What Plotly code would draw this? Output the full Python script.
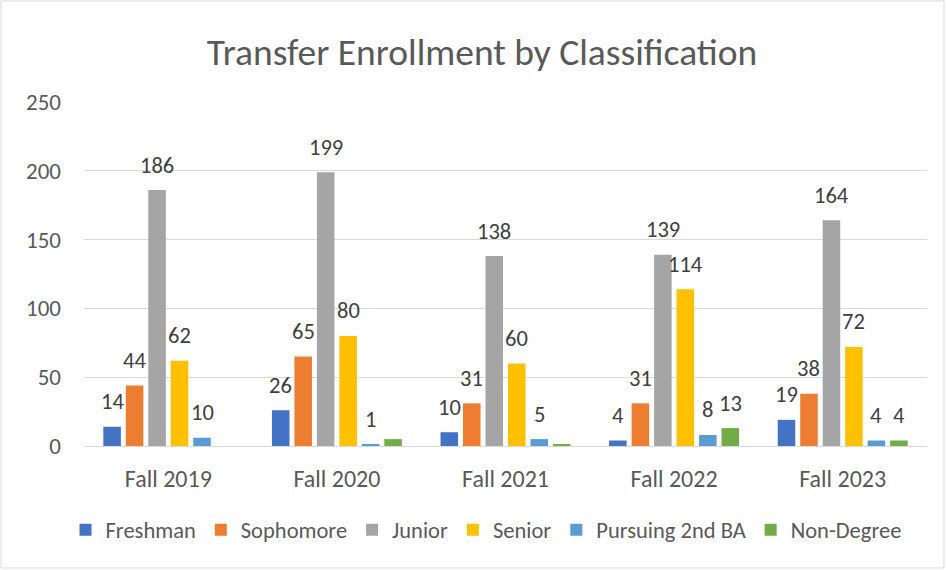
import plotly.graph_objects as go

categories = ["Fall 2019", "Fall 2020", "Fall 2021", "Fall 2022", "Fall 2023"]
series_names = ["Freshman", "Sophomore", "Junior", "Senior", "Pursuing 2nd BA", "Non-Degree"]
freshman = [14, 26, 10, 4, 19]
sophomore = [44, 65, 31, 31, 38]
junior = [186, 199, 138, 139, 164]
senior = [62, 80, 60, 114, 72]
pursuing_2nd_ba = [6, 1, 5, 8, 4]
non_degree = [0, 5, 1, 13, 4]
# data-label texts as shown on the chart
freshman_labels = ["14", "26", "10", "4", "19"]
sophomore_labels = ["44", "65", "31", "31", "38"]
junior_labels = ["186", "199", "138", "139", "164"]
senior_labels = ["62", "80", "60", "114", "72"]
pursuing_labels = ["10", "1", "5", "8", "4"]
non_degree_labels = ["", "", "", "13", "4"]
y_ticks = [0, 50, 100, 150, 200, 250]

values = [freshman, sophomore, junior, senior, pursuing_2nd_ba, non_degree]
labels = [freshman_labels, sophomore_labels, junior_labels, senior_labels, pursuing_labels, non_degree_labels]
colors = ["#4472C4", "#ED7D31", "#A5A5A5", "#FFC000", "#5B9BD5", "#70AD47"]

FONT = "Carlito, Calibri, Lato, sans-serif"
BARGAP = 0.2
BARGROUPGAP = 0.22
W, H = 946, 570
L, T, PW, PH = 84, 102, 843, 344  # plot area in pixels

fig = go.Figure()
for name, vals, col in zip(series_names, values, colors):
    fig.add_trace(go.Bar(name=name, x=categories, y=vals, marker_color=col,
                         marker_line_width=0))

n = len(series_names)
slot = (1 - BARGAP) / n
annotations = []
for i, labs in enumerate(labels):
    for c, (v, t) in enumerate(zip(values[i], labs)):
        if t == "":
            continue
        annotations.append(dict(
            x=c + (i - (n - 1) / 2) * slot, y=v, xref="x", yref="y",
            text=t, showarrow=False, yanchor="middle", yshift=25,
            font=dict(family=FONT, size=22.5, color="#404040")))

fig.update_layout(
    width=W, height=H,
    paper_bgcolor="white", plot_bgcolor="white",
    margin=dict(l=L, r=W - L - PW, t=T, b=H - T - PH),
    barmode="group", bargap=BARGAP, bargroupgap=BARGROUPGAP,
    font=dict(family=FONT, color="#595959"),
    title=dict(text="Transfer Enrollment by Classification", x=482 / W, xref="container",
               xanchor="center", y=1 - 52 / H, yref="container", yanchor="middle",
               font=dict(family=FONT, size=37.5, color="#595959")),
    xaxis=dict(showgrid=False, showline=True, linecolor="#D9D9D9", linewidth=1,
               tickfont=dict(family=FONT, size=24, color="#595959"),
               ticks="", ticklabelstandoff=11),
    yaxis=dict(range=[0, 250], tickvals=y_ticks, showgrid=True, gridcolor="#D9D9D9",
               gridwidth=1, zeroline=False, showline=False,
               tickfont=dict(family=FONT, size=23, color="#595959"),
               ticklabelstandoff=22),
    legend=dict(orientation="h", x=(486 - L) / PW, xanchor="center",
                y=(T + PH - 530) / PH, yanchor="middle",
                font=dict(family=FONT, size=22.5, color="#595959")),
    annotations=annotations,
    shapes=[dict(type="rect", xref="paper", yref="paper",
                 x0=(1 - L) / PW, x1=(944 - L) / PW,
                 y0=(T + PH - 568) / PH, y1=(T + PH - 1) / PH,
                 line=dict(color="#D9D9D9", width=1), fillcolor="rgba(0,0,0,0)",
                 layer="below")],
)

fig.write_html("out.html", config={"displayModeBar": False},
               post_script="document.body.style.margin='0';")
